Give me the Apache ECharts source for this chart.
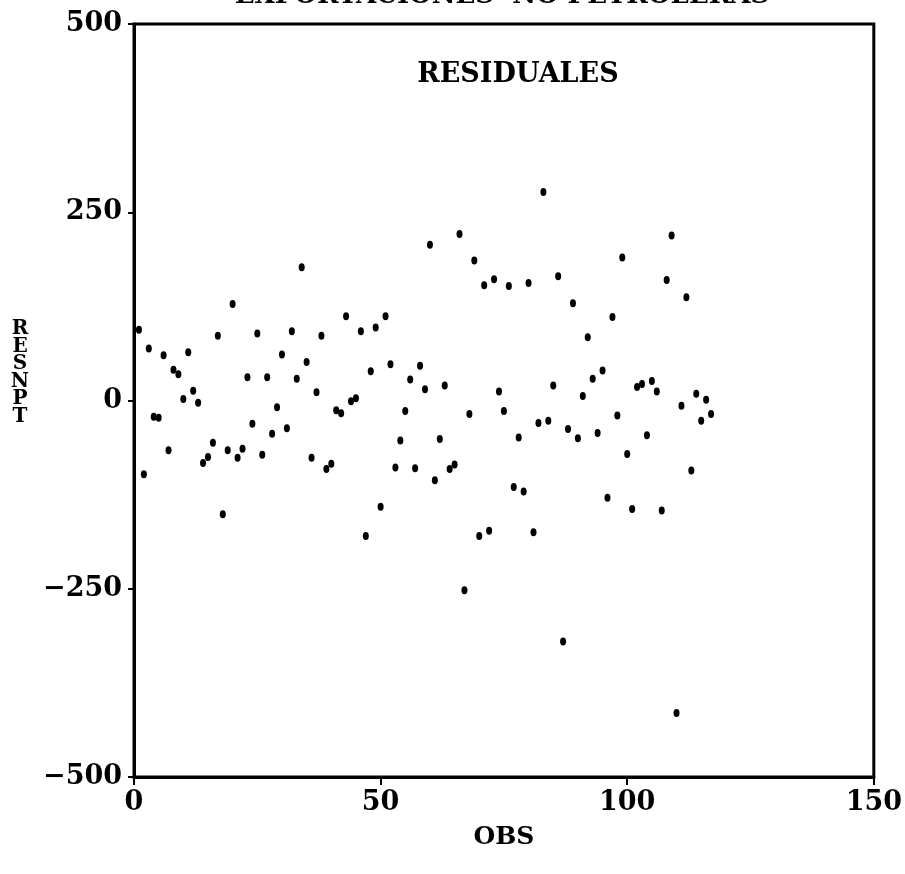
<!DOCTYPE html>
<html>
<head>
<meta charset="utf-8">
<title>Exportaciones no petroleras - residuales</title>
<script src="https://cdn.jsdelivr.net/npm/echarts@6/dist/echarts.min.js"></script>
<style>
  html, body { margin: 0; padding: 0; background: #fff; }
  #chart { width: 905px; height: 874px; }
</style>
</head>
<body>
<div id="chart"></div>
<script>
// Residuals of the non-oil exports model, one value per observation (OBS 1..117)
const resnpt = [
  94, -98, 69, -21.5, -23, 60, -66, 41, 35, 2,
  64, 13, -3, -83, -75, -56, 86, -151, -66, 128,
  -76, -64, 31, -31, 89, -72, 31, -44, -9, 61,
  -37, 92, 29, 177, 51, -76, 11, 86, -91, -84,
  -13, -17, 112, -1, 3, 92, -180, 39, 97, -141,
  112, 48, -89, -53, -14, 28, -90, 46, 15, 207,
  -106, -51, 20, -91, -85, 221, -252, -18, 186, -180,
  153, -173, 161, 12, -14, 152, -115, -49, -121, 156,
  -175, -30, 277, -27, 20, 165, -320, -38, 129, -50,
  6, 84, 29, -43, 40, -129, 111, -20, 190, -71,
  -144, 18, 22, -46, 26, 12, -146, 160, 219, -415,
  -7, 137, -93, 9, -27, 1, -18
];

// Axis ranges and tick labels
const xTicks = [0, 50, 100, 150];
const yTicks = [-500, -250, 0, 250, 500];

const points = resnpt.map((v, i) => [i + 1, v]);

const FONT = '"DejaVu Serif", "Liberation Serif", serif';

const chart = echarts.init(document.getElementById('chart'), null, { renderer: 'canvas' });

chart.setOption({
  animation: false,
  backgroundColor: '#ffffff',
  grid: {
    left: 134, right: 31, top: 24, bottom: 97,
    show: true, borderColor: '#000', borderWidth: 3,
    containLabel: false
  },
  xAxis: {
    type: 'value',
    min: xTicks[0], max: xTicks[xTicks.length - 1], interval: 50,
    splitLine: { show: false },
    axisLine: { show: true, onZero: false, lineStyle: { color: '#000', width: 3 } },
    axisTick: { show: true, inside: false, length: 8, lineStyle: { color: '#000', width: 2 } },
    axisLabel: {
      margin: 12, color: '#000', fontFamily: FONT, fontWeight: 'bold', fontSize: 27,
      formatter: v => String(v)
    },
    name: 'OBS', nameLocation: 'middle', nameGap: 48,
    nameTextStyle: { color: '#000', fontFamily: FONT, fontWeight: 'bold', fontSize: 25 }
  },
  yAxis: {
    type: 'value',
    min: yTicks[0], max: yTicks[yTicks.length - 1], interval: 250,
    splitLine: { show: false },
    axisLine: { show: true, onZero: false, lineStyle: { color: '#000', width: 3 } },
    axisTick: { show: true, inside: false, length: 6, lineStyle: { color: '#000', width: 2 } },
    axisLabel: {
      margin: 12, color: '#000', fontFamily: FONT, fontWeight: 'bold', fontSize: 27,
      formatter: v => (v < 0 ? '\u2212' + Math.abs(v) : String(v))
    }
  },
  graphic: [
    {
      // main title, running off the top edge of the page
      type: 'text', x: 502, y: -4,
      style: {
        text: 'EXPORTACIONES  NO PETROLERAS',
        fill: '#000', font: 'bold 26px ' + FONT,
        align: 'center', verticalAlign: 'middle'
      }
    },
    {
      type: 'text', x: 518, y: 75,
      style: {
        text: 'RESIDUALES', fill: '#000', font: 'bold 27px ' + FONT,
        align: 'center', verticalAlign: 'middle'
      }
    },
    {
      // stacked y-axis name
      type: 'text', x: 20, y: 373,
      style: {
        text: 'R\nE\nS\nN\nP\nT', fill: '#000', font: 'bold 20px ' + FONT,
        lineHeight: 17.5, align: 'center', verticalAlign: 'middle'
      }
    }
  ],
  series: [{
    type: 'scatter',
    data: points,
    symbol: 'circle',
    symbolSize: [6, 8],
    itemStyle: { color: '#000', opacity: 1 }
  }]
});
</script>
</body>
</html>
